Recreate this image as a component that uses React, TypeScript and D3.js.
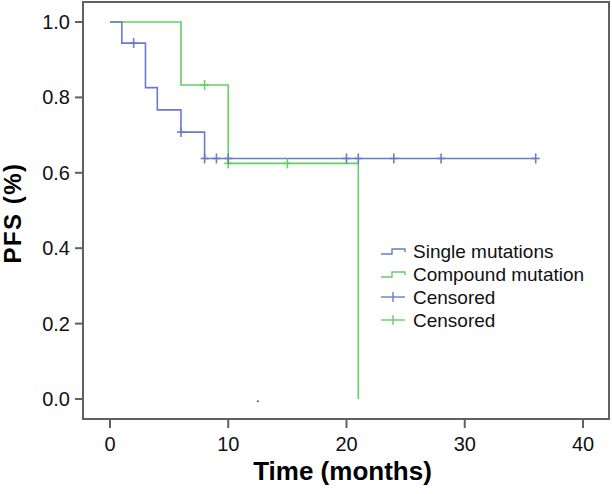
import React from "react";
import * as d3 from "d3";

// Step data: [time, survival]
const singleSteps: [number, number][] = [
  [0, 1.0], [1, 0.944], [3, 0.826], [4, 0.767], [6, 0.708], [8, 0.638], [36, 0.638],
];
const singleCensored: [number, number][] = [
  [2, 0.944], [6, 0.708], [8, 0.638], [9, 0.638], [10, 0.638], [20, 0.638], [21, 0.638], [24, 0.638], [28, 0.638], [36, 0.638],
];
const compoundSteps: [number, number][] = [
  [0, 1.0], [6, 0.833], [10, 0.625], [21, 0.0],
];
const compoundCensored: [number, number][] = [
  [8, 0.833], [10, 0.625], [15, 0.625],
];
const xTicks = [0, 10, 20, 30, 40];
const yTicks = [0.0, 0.2, 0.4, 0.6, 0.8, 1.0];
const legendLabels = ["Single mutations", "Compound mutation", "Censored", "Censored"];
const strayDot: [number, number] = [12.5, -0.006];

const BLUE = "#6a7bcb";
const GREEN = "#62d062";
const FONT = "'Liberation Sans', Arial, sans-serif";

export default function App() {
  const W = 612, H = 494;
  const x = d3.scaleLinear().domain([0, 40]).range([110, 583]);
  const y = d3.scaleLinear().domain([0, 1]).range([399, 22]);
  const frame = { l: 83, t: 2, r: 609, b: 419 };

  const stepLine = d3.line<[number, number]>().x(d => x(d[0])).y(d => y(d[1])).curve(d3.curveStepAfter);

  const cross = (pts: [number, number][], color: string, key: string) =>
    pts.map((p, i) => (
      <g key={key + i} stroke={color} strokeWidth={1.6}>
        <line x1={x(p[0]) - 4} x2={x(p[0]) + 4} y1={y(p[1])} y2={y(p[1])} />
        <line x1={x(p[0])} x2={x(p[0])} y1={y(p[1]) - 5} y2={y(p[1]) + 5} />
      </g>
    ));

  const legendY = [251, 274, 297, 320];
  const colors = [BLUE, GREEN, BLUE, GREEN];

  return (
    <svg width={W} height={H} style={{ position: "absolute", left: 0, top: 0, background: "#fff" }}>
      <rect x={0} y={0} width={W} height={H} fill="#fff" />
      {/* frame */}
      <rect x={frame.l} y={frame.t} width={frame.r - frame.l} height={frame.b - frame.t} fill="none" stroke="#606060" strokeWidth={2} />
      {/* y axis ticks */}
      {yTicks.map(t => (
        <g key={"y" + t}>
          <line x1={75} x2={frame.l} y1={y(t)} y2={y(t)} stroke="#606060" strokeWidth={2} />
          <text x={70} y={y(t) + 7} textAnchor="end" fontFamily={FONT} fontSize={20} fill="#111">{t.toFixed(1)}</text>
        </g>
      ))}
      {/* x axis ticks */}
      {xTicks.map(t => (
        <g key={"x" + t}>
          <line x1={x(t)} x2={x(t)} y1={frame.b} y2={428} stroke="#606060" strokeWidth={2} />
          <text x={x(t)} y={451} textAnchor="middle" fontFamily={FONT} fontSize={20} fill="#111">{t}</text>
        </g>
      ))}
      <text x={(x(0) + x(40)) / 2 - 4} y={480} textAnchor="middle" fontFamily={FONT} fontSize={26} fontWeight="bold" fill="#000">Time (months)</text>
      <text transform={`translate(21, ${213}) rotate(-90)`} textAnchor="middle" fontFamily={FONT} fontSize={24} fontWeight="bold" letterSpacing={1.5} fill="#000">PFS (%)</text>

      {/* curves */}
      <path d={stepLine(compoundSteps) || ""} fill="none" stroke={GREEN} strokeWidth={1.6} />
      <path d={stepLine(singleSteps) || ""} fill="none" stroke={BLUE} strokeWidth={1.6} />
      {cross(compoundCensored, GREEN, "cc")}
      {cross(singleCensored, BLUE, "sc")}
      <circle cx={x(strayDot[0])} cy={y(strayDot[1])} r={1} fill="#555" />

      {/* legend */}
      {legendLabels.map((lab, i) => {
        const ly = legendY[i];
        const c = colors[i];
        return (
          <g key={"lg" + i}>
            {i < 2 ? (
              <path d={`M381,${ly + 3}H392V${ly - 2}H405V${ly + 1}`} fill="none" stroke={c} strokeWidth={1.4} />
            ) : (
              <g stroke={c} strokeWidth={1.4}>
                <line x1={381} x2={405} y1={ly} y2={ly} />
                <line x1={393} x2={393} y1={ly - 5} y2={ly + 5} />
              </g>
            )}
            <text x={413} y={ly + 6.5} fontFamily={FONT} fontSize={19} fill="#111">{lab}</text>
          </g>
        );
      })}
    </svg>
  );
}
